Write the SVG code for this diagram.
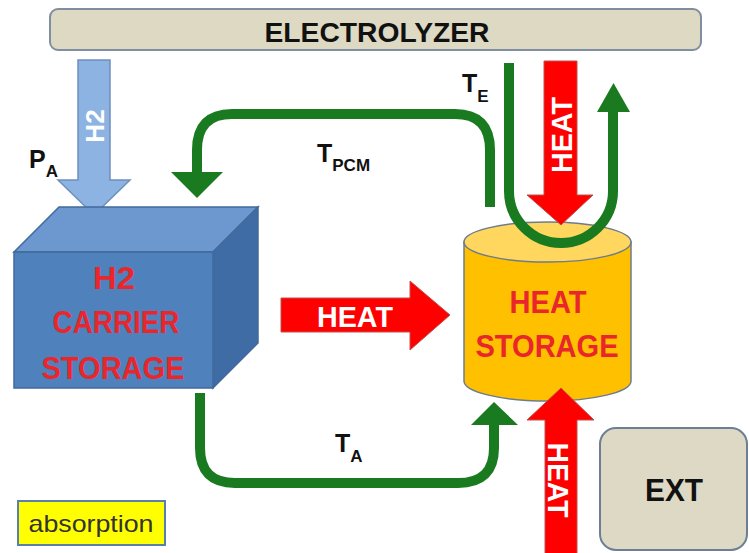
<svg xmlns="http://www.w3.org/2000/svg" width="749" height="553" viewBox="0 0 749 553">
<style>
.lbl{font-family:"Liberation Sans",Arial,sans-serif;font-weight:bold;}
.red{fill:#ff0000;stroke:#c0504d;stroke-width:1;}
.grn{fill:none;stroke:#1a7a1f;stroke-width:10;}
.gh{fill:#1a7a1f;}
.rt{fill:#e8262b;font-size:31px;text-anchor:middle;}
.wt{fill:#ffffff;font-size:29px;text-anchor:middle;}
.bt{fill:#111;font-size:25px;}
.sub{font-size:17px;}
</style>
<rect width="749" height="553" fill="#ffffff"/>
<g id="electrolyzer">
<rect x="50" y="9" width="651" height="41" rx="8" fill="#ddd9c3" stroke="#7f8ea0" stroke-width="2"/>
<text class="lbl" x="377" y="42" font-size="28" text-anchor="middle" fill="#111" textLength="225" lengthAdjust="spacingAndGlyphs">ELECTROLYZER</text>
</g>
<g id="h2-arrow">
<polygon points="78,60 110,60 110,180 130,180 94,215 58,180 78,180" fill="#8db3e2" stroke="#6d8fbf" stroke-width="1.5"/>
<text class="lbl" fill="#ffffff" text-anchor="middle" transform="translate(104,126) rotate(-90)" font-size="26">H2</text>
</g>
<g id="carrier-storage">
<polygon points="14,252 59,207 258,207 213,252" fill="#6c97cf" stroke="#41699b" stroke-width="1.5"/>
<polygon points="213,252 258,207 258,343 213,388" fill="#3f6ca4" stroke="#41699b" stroke-width="1.5"/>
<rect x="14" y="252" width="199" height="136" fill="#4f81bd" stroke="#41699b" stroke-width="1.5"/>
<text class="lbl rt" x="114" y="289" textLength="42" lengthAdjust="spacingAndGlyphs">H2</text>
<text class="lbl rt" x="116" y="333" textLength="127" lengthAdjust="spacingAndGlyphs">CARRIER</text>
<text class="lbl rt" x="113" y="379" textLength="143" lengthAdjust="spacingAndGlyphs">STORAGE</text>
</g>
<g id="heat-storage">
<path d="M464,242 L464,381 A83.5,20 0 0 0 631,381 L631,242 Z" fill="#ffc000" stroke="#6d7b8d" stroke-width="1.5"/>
<ellipse cx="547.5" cy="242" rx="83.5" ry="20" fill="#ffd75e" stroke="#6d7b8d" stroke-width="1.5"/>
<text class="lbl rt" x="548" y="313" textLength="77" lengthAdjust="spacingAndGlyphs">HEAT</text>
<text class="lbl rt" x="547" y="357" textLength="143" lengthAdjust="spacingAndGlyphs">STORAGE</text>
</g>
<g id="ext">
<rect x="600" y="428" width="147" height="122" rx="16" fill="#ddd9c4" stroke="#6d7f94" stroke-width="2"/>
<text class="lbl" x="674" y="501" font-size="31" text-anchor="middle" fill="#111" textLength="58" lengthAdjust="spacingAndGlyphs">EXT</text>
</g>
<g id="absorption">
<rect x="18" y="501" width="147" height="44" fill="#ffff00" stroke="#5b7fad" stroke-width="2"/>
<text x="91" y="532" font-family="'Liberation Sans',Arial,sans-serif" font-size="24" text-anchor="middle" fill="#333" textLength="125" lengthAdjust="spacingAndGlyphs">absorption</text>
</g>
<g id="connectors">
<polygon class="red" points="281,298 410,298 410,281 450,315 410,350 410,332 281,332"/>
<text class="lbl wt" x="355" y="327" textLength="76" lengthAdjust="spacingAndGlyphs">HEAT</text>
<polygon class="red" points="544,61 577,61 577,195 593,195 561,225 527,195 544,195"/>
<text class="lbl wt" transform="translate(572,135) rotate(-90)" textLength="76" lengthAdjust="spacingAndGlyphs">HEAT</text>
<polygon class="red" points="545,556 545,420 527,420 561,388 594,420 577,420 577,556"/>
<text class="lbl wt" transform="translate(548,480) rotate(90)" textLength="75" lengthAdjust="spacingAndGlyphs">HEAT</text>
<path class="grn" d="M490,207 L490,150 Q490,114 455,114 L232,114 Q197,114 197,150 L197,173"/>
<polygon class="gh" points="171,172 223,172 197,198"/>
<path class="grn" d="M200,393 L200,448 Q200,483 235,483 L458,483 Q494,483 494,448 L494,424"/>
<polygon class="gh" points="471,425 518,425 494,402"/>
<path class="grn" stroke-width="3.5" d="M509,63 L509,191 A52,52 0 0 0 613,191 L613,110"/>
<polygon class="gh" points="597,112 630,112 613.5,83"/>
</g>
<g id="labels">
<text class="lbl bt" x="29" y="168">P<tspan class="sub" dy="9">A</tspan></text>
<text class="lbl bt" x="462" y="92">T<tspan class="sub" dy="10">E</tspan></text>
<text class="lbl bt" x="317" y="162">T<tspan class="sub" dy="9">PCM</tspan></text>
<text class="lbl bt" x="335" y="452">T<tspan class="sub" dy="10">A</tspan></text>
</g>
</svg>
